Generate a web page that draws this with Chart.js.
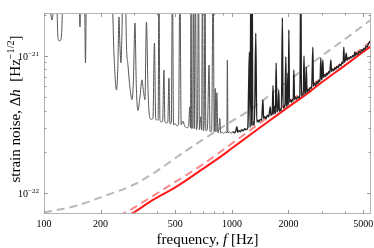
<!DOCTYPE html>
<html>
<head>
<meta charset="utf-8">
<script src="https://cdn.jsdelivr.net/npm/chart.js@4"></script>
<style>
  html, body { margin: 0; padding: 0; background: #fff; }
  canvas { display: block; }
</style>
</head>
<body>
<canvas id="noiseChart" width="374" height="248"></canvas>
<script>
const blackFreq = [
  100, 106, 108, 110.3, 112, 114, 116.5, 118.7, 120.5, 122.5, 124.7, 126.5,
  153, 155.4, 157.5, 164, 166.2, 168.5, 228, 236, 243, 247, 250.6, 253, 256.8, 260, 263.2,
  270, 274.7, 280, 287, 293.9, 299, 304.8, 310, 316.2, 324, 332.1, 338, 344.5, 350.9, 358,
  366.4, 373, 380, 387, 393, 400, 405, 409, 414, 422, 428, 434.8, 440, 450, 456, 462.3,
  468, 476, 482.6, 489, 500, 510, 520, 529, 537, 548.8, 560, 576, 588, 597, 602, 606,
  611, 618, 624, 630, 640, 647, 656, 664, 672, 682, 690, 697, 705, 712, 719, 727, 740,
  756, 765, 780, 795, 805, 816, 822, 832, 842, 852, 862, 872, 890, 905, 925, 940, 946,
  953, 970, 990, 1010, 1030, 1050, 1063, 1075, 1095, 1110, 1130, 1150, 1170, 1190, 1216,
  1228, 1240, 1250, 1262, 1272, 1282, 1292, 1305, 1318, 1340, 1356, 1375, 1395, 1415,
  1440, 1462, 1475, 1500, 1520, 1545, 1570, 1600, 1615, 1640, 1655, 1670, 1690, 1705,
  1720, 1735, 1755, 1775, 1790, 1815, 1835, 1856, 1872, 1895, 1915, 1937, 1950, 1970,
  1985, 1997, 2010, 2025, 2050, 2075, 2100, 2120, 2137, 2155, 2180, 2210, 2244, 2275,
  2300, 2328, 2345, 2375, 2400, 2420, 2440, 2465, 2490, 2510, 2545, 2580, 2610, 2640,
  2665, 2697, 2715, 2750, 2790, 2832, 2870, 2910, 2945, 2974, 2995, 3020, 3048, 3075,
  3110, 3150, 3190, 3230, 3280, 3320, 3362, 3390, 3430, 3480, 3530, 3574, 3620, 3680,
  3740, 3800, 3860, 3910, 3942, 3970, 4020, 4060, 4100, 4160, 4220, 4280, 4340, 4400,
  4460, 4511, 4560, 4620, 4690, 4760, 4830, 4900, 4970, 5040, 5110, 5180, 5250, 5320,
  5400, 5500
];
const blackNoise = [
  4e-21, 3e-21, 2.2e-21, 1.83e-21, 2.2e-21, 4e-21, 3e-21, 1.36e-21, 1.29e-21, 1.3e-21, 1.7e-21, 4e-21,
  4e-21, 1.63e-21, 4e-21, 4e-21, 8.9e-22, 4e-21, 4e-21, 1.0e-21, 5.65e-22, 8e-22, 1.93e-21, 1.3e-21, 8.9e-22, 1.5e-21, 4e-21,
  4e-21, 1.2e-21, 8.5e-22, 5.8e-22, 4.8e-22, 6.5e-22, 1.74e-21, 6e-22, 4.0e-22, 5e-22, 6.7e-22, 5.6e-22, 4.8e-22, 1.77e-21, 5.5e-22,
  3.5e-22, 3.45e-22, 3.5e-22, 1.24e-21, 3.5e-22, 3.4e-22, 3.45e-22, 4e-21, 3.4e-22, 3.3e-22, 3.35e-22, 7.9e-22, 3.3e-22, 3.25e-22, 3.3e-22, 6.9e-22,
  3.2e-22, 3.25e-22, 4e-21, 3.15e-22, 3.2e-22, 3.1e-22, 3.15e-22, 4e-21, 3.15e-22, 3.35e-22, 3.1e-22, 3.0e-22, 3.05e-22, 4.25e-22, 3.0e-22, 4e-21,
  2.95e-22, 3.1e-22, 4e-21, 2.95e-22, 4e-21, 2.9e-22, 3.4e-22, 4e-21, 2.9e-22, 3.6e-22, 2.88e-22, 4e-21, 2.85e-22, 3.3e-22, 4e-21, 2.85e-22, 2.9e-22,
  8.6e-22, 2.8e-22, 2.85e-22, 4e-21, 2.8e-22, 5.8e-22, 2.8e-22, 5.4e-22, 2.75e-22, 2.9e-22, 3.5e-22, 2.74e-22, 2.78e-22, 2.72e-22, 2.8e-22, 2.74e-22, 9.3e-22,
  2.74e-22, 2.8e-22, 2.72e-22, 2.8e-22, 2.75e-22, 2.85e-22, 3.05e-22, 2.78e-22, 2.85e-22, 2.8e-22, 2.9e-22, 2.85e-22, 2.95e-22, 2.9e-22, 3.0e-22,
  6e-22, 1.07e-21, 3.0e-22, 4e-21, 3.1e-22, 4e-21, 3.1e-22, 3.3e-22, 3.15e-22, 1.47e-21, 3.3e-22, 3.4e-22, 3.3e-22, 3.45e-22,
  3.4e-22, 4.8e-22, 3.5e-22, 3.6e-22, 3.5e-22, 3.7e-22, 3.6e-22, 4.25e-22, 3.7e-22, 3.8e-22, 6.1e-22, 3.75e-22, 4.3e-22, 3.8e-22,
  8.9e-22, 3.9e-22, 4.0e-22, 5.65e-22, 3.95e-22, 4.1e-22, 4.0e-22, 1.9e-21, 4.15e-22, 4.3e-22, 4.2e-22, 9.9e-22, 4.4e-22, 4.3e-22,
  7.5e-22, 4.4e-22, 1.55e-21, 4.6e-22, 4.8e-22, 4.6e-22, 4.8e-22, 4.7e-22, 7.9e-22, 4.8e-22, 5.0e-22, 4.85e-22, 5.05e-22, 4.95e-22,
  5.2e-22, 4e-21, 5.1e-22, 5.3e-22, 5.2e-22, 1.0e-21, 5.3e-22, 5.5e-22, 8.3e-22, 5.4e-22, 5.7e-22, 5.6e-22, 5.9e-22, 5.8e-22,
  6.2e-22, 1.16e-21, 6.0e-22, 6.3e-22, 6.1e-22, 6.5e-22, 6.3e-22, 6.7e-22, 6.5e-22, 9.7e-22, 6.7e-22, 6.9e-22, 9.35e-22, 7.0e-22,
  7.3e-22, 7.1e-22, 7.5e-22, 7.3e-22, 7.7e-22, 7.5e-22, 9.35e-22, 7.7e-22, 8.0e-22, 7.8e-22, 8.2e-22, 8.0e-22, 8.4e-22, 8.2e-22,
  8.7e-22, 8.5e-22, 9.0e-22, 8.8e-22, 1.16e-21, 9.0e-22, 9.4e-22, 1.05e-21, 9.3e-22, 9.7e-22, 9.5e-22, 9.9e-22, 9.7e-22, 1.01e-21,
  9.9e-22, 1.07e-21, 1.01e-21, 1.05e-21, 1.03e-21, 1.08e-21, 1.06e-21, 1.11e-21, 1.09e-21, 1.14e-21, 1.12e-21, 1.18e-21, 1.16e-21, 1.23e-21,
  1.26e-21, 1.32e-21
];

// grey dashed curve
const grayFreq = [100, 150, 200, 300, 400, 500, 700, 1000, 1250, 2000, 3000, 4000, 5500];
const grayNoise = [7.2e-23, 8.1e-23, 9.3e-23, 1.15e-22, 1.45e-22, 1.8e-22, 2.45e-22, 3.35e-22, 4.05e-22, 6.6e-22, 1.0e-21, 1.33e-21, 1.84e-21];

// light red dashed curve
const pinkFreq = [250, 300, 430, 700, 1000, 2000, 3000, 5500];
const pinkNoise = [6.8e-23, 7.8e-23, 1.06e-22, 1.62e-22, 2.3e-22, 4.6e-22, 6.9e-22, 1.27e-21];

// red solid curve
const redFreq = [280, 300, 380, 500, 700, 860, 1000, 1400, 2000, 2600, 3000, 4000, 5500];
const redNoise = [6.85e-23, 7.2e-23, 8.9e-23, 1.1e-22, 1.5e-22, 1.82e-22, 2.12e-22, 2.98e-22, 4.25e-22, 5.5e-22, 6.4e-22, 8.55e-22, 1.18e-21];

const xTicks = [100, 200, 500, 1000, 2000, 5000];
const xTickLabels = ["100", "200", "500", "1000", "2000", "5000"];
const xMinorTicks = [300, 400, 600, 700, 800, 900, 3000, 4000];
const yTicks = [1e-22, 1e-21];
const yTickExponents = ["\u221222", "\u221221"];
const yMinorTicks = [2e-22, 3e-22, 4e-22, 5e-22, 6e-22, 7e-22, 8e-22, 9e-22, 2e-21];

const serif = '"Liberation Serif", "DejaVu Serif", serif';

function toPoints(freq, vals) {
  return freq.map((f, i) => ({ x: f, y: vals[i] }));
}

// draws a run of text pieces (regular / italic / superscript) centred on x
function drawRich(c, parts, x, y, size) {
  let total = 0;
  parts.forEach(p => {
    c.font = (p.italic ? "italic " : "") + (p.sup ? size * 0.68 : size) + "px " + serif;
    p.w = c.measureText(p.t).width;
    total += p.w;
  });
  let cx = x - total / 2;
  parts.forEach(p => {
    c.font = (p.italic ? "italic " : "") + (p.sup ? size * 0.68 : size) + "px " + serif;
    c.fillText(p.t, cx, p.sup ? y - size * 0.42 : y);
    cx += p.w;
  });
}

const framePlugin = {
  id: "frame",
  afterDraw(chart) {
    const c = chart.ctx;
    const a = chart.chartArea;
    const xs = chart.scales.x;
    const ys = chart.scales.y;
    c.save();
    c.strokeStyle = "#b4b4b4";
    c.lineWidth = 1;
    c.strokeRect(a.left + 0.5, a.top + 0.5, a.right - a.left - 1, a.bottom - a.top - 1);

    c.strokeStyle = "#9a9a9a";
    c.beginPath();
    const xTick = (v, len) => {
      const px = Math.round(xs.getPixelForValue(v)) + 0.5;
      c.moveTo(px, a.bottom); c.lineTo(px, a.bottom - len);
      c.moveTo(px, a.top); c.lineTo(px, a.top + len);
    };
    const yTick = (v, len) => {
      const py = Math.round(ys.getPixelForValue(v)) + 0.5;
      c.moveTo(a.left, py); c.lineTo(a.left + len, py);
      c.moveTo(a.right, py); c.lineTo(a.right - len, py);
    };
    xTicks.forEach(v => xTick(v, 4));
    xMinorTicks.forEach(v => xTick(v, 2.5));
    yTicks.forEach(v => yTick(v, 4));
    yMinorTicks.forEach(v => yTick(v, 2.5));
    c.stroke();

    c.fillStyle = "#000";
    c.font = "10px " + serif;
    c.textAlign = "center";
    c.textBaseline = "alphabetic";
    xTicks.forEach((v, i) => {
      c.fillText(xTickLabels[i], xs.getPixelForValue(v), a.bottom + 13);
    });

    yTicks.forEach((v, i) => {
      const py = ys.getPixelForValue(v);
      const end = a.left - 5;
      c.textAlign = "right";
      c.font = "7px " + serif;
      const sw = c.measureText(yTickExponents[i]).width;
      c.fillText(yTickExponents[i], end, py - 0.5);
      c.font = "10px " + serif;
      c.fillText("10", end - sw, py + 4);
    });

    c.textAlign = "left";
    drawRich(c, [
      { t: "frequency, " }, { t: "f", italic: true }, { t: " [Hz]" }
    ], (a.left + a.right) / 2, 244, 15);

    c.save();
    c.translate(20, 109);
    c.rotate(-Math.PI / 2);
    drawRich(c, [
      { t: "strain noise, \u0394" }, { t: "h", italic: true }, { t: "  [Hz" },
      { t: "\u22121/2", sup: true }, { t: "]" }
    ], 0, 0, 15);
    c.restore();
    c.restore();
  }
};

new Chart(document.getElementById("noiseChart"), {
  type: "line",
  data: {
    datasets: [
      {
        data: toPoints(blackFreq, blackNoise),
        borderColor: "#555",
        borderWidth: 1,
        cubicInterpolationMode: "monotone",
        // the dense high-frequency part reads darker and thicker
        segment: {
          borderColor: ctx => ctx.p0.parsed.x > 1000 ? "#222" : "#555",
          borderWidth: ctx => ctx.p0.parsed.x > 1000 ? 1.4 : 1
        }
      },
      {
        data: toPoints(redFreq, redNoise),
        borderColor: "#ff1a1a",
        borderWidth: 2,
        cubicInterpolationMode: "monotone"
      },
      {
        data: toPoints(pinkFreq, pinkNoise),
        borderColor: "#f48a8a",
        borderWidth: 2,
        borderDash: [8, 5],
        cubicInterpolationMode: "monotone"
      },
      {
        data: toPoints(grayFreq, grayNoise),
        borderColor: "#b8b8b8",
        borderWidth: 2,
        borderDash: [8, 5],
        cubicInterpolationMode: "monotone"
      }
    ]
  },
  options: {
    responsive: false,
    animation: false,
    devicePixelRatio: 1,
    layout: { padding: { left: 44, top: 13, right: 3, bottom: 34 } },
    elements: { point: { radius: 0 } },
    plugins: { legend: { display: false }, tooltip: { enabled: false } },
    scales: {
      x: { type: "logarithmic", min: 100, max: 5500, display: false },
      y: { type: "logarithmic", min: 7.03e-23, max: 2.06e-21, display: false }
    }
  },
  plugins: [framePlugin]
});
</script>
</body>
</html>
